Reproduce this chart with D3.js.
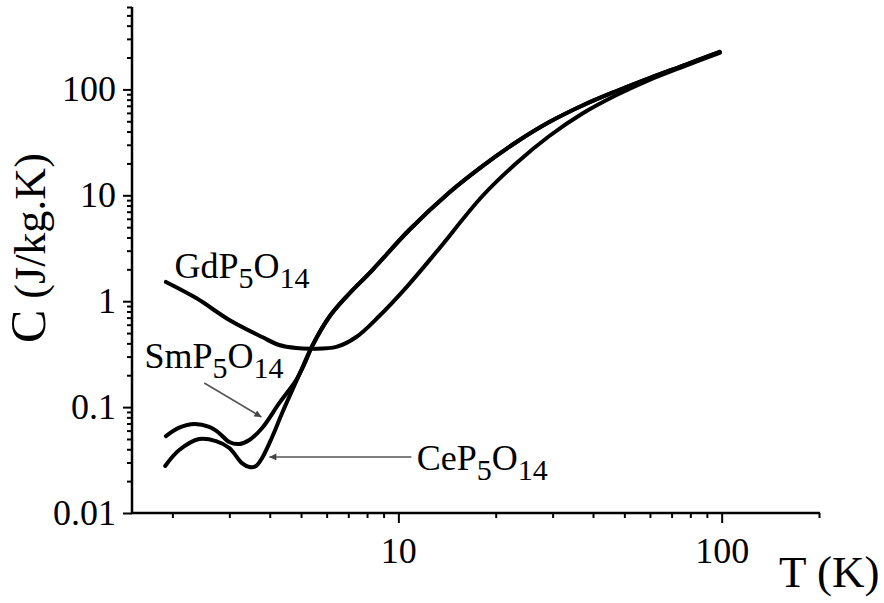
<!DOCTYPE html>
<html>
<head>
<meta charset="utf-8">
<script src="https://cdn.jsdelivr.net/npm/d3@7"></script>
<style>
  body { margin: 0; background: #fff; }
  svg { display: block; }
  text { font-family: "Liberation Serif", "Times New Roman", serif; fill: #000; }
</style>
</head>
<body>
<svg id="chart" width="884" height="603"></svg>
<script>
// Specific heat C (J/kg.K) of three rare-earth pentaphosphates versus temperature T (K)

// GdP5O14
const gdT = [1.91, 2.37, 3.0, 3.79, 4.28, 4.83, 5.42, 6.43, 7.41, 8.73, 10.6, 13.1, 18.2, 23.2, 29.3, 37.1, 47.3, 59.8, 76.8, 98.6];
const gdC = [1.52, 1.07, 0.665, 0.459, 0.386, 0.361, 0.356, 0.370, 0.459, 0.725, 1.36, 2.91, 9.85, 20.2, 36.3, 59.2, 88.5, 123, 166, 221];

// SmP5O14 and CeP5O14 coincide above about 5.4 K
const highT = [5.42, 6.11, 6.90, 8.31, 10.8, 14.4, 18.2, 23.2, 29.3, 37.1, 47.3, 59.8, 76.8, 98.6];
const highC = [0.38, 0.709, 1.10, 1.97, 4.70, 10.7, 18.9, 31.9, 49.2, 70.5, 96.6, 128, 170, 226];

// SmP5O14 below the merge
const smT = [1.91, 2.10, 2.34, 2.60, 2.79, 3.0, 3.22, 3.46, 3.79, 4.28, 4.83, 5.12];
const smC = [0.0533, 0.0640, 0.0692, 0.0649, 0.0569, 0.0468, 0.0448, 0.0489, 0.0635, 0.109, 0.180, 0.255];

// CeP5O14 below the merge
const ceT = [1.90, 2.10, 2.42, 2.73, 3.0, 3.29, 3.46, 3.63, 3.79, 4.07, 4.37, 4.70, 5.04];
const ceC = [0.0278, 0.0393, 0.050, 0.0478, 0.0411, 0.0294, 0.0272, 0.0278, 0.0331, 0.0522, 0.088, 0.145, 0.234];

// Axis ticks
const xMajor = [10, 100];
const xMinor = [2, 3, 4, 5, 6, 7, 8, 9, 20, 30, 40, 50, 60, 70, 80, 90, 200];
const yMajor = [0.01, 0.1, 1, 10, 100];
const yMajorLabels = ["0.01", "0.1", "1", "10", "100"];
const yMinor = [];
[0.01, 0.1, 1, 10, 100].forEach(d => { for (let k = 2; k <= 9; k++) if (d * k <= 600) yMinor.push(d * k); });

const svg = d3.select("#chart");

const x = d3.scaleLog().domain([1.5, 200]).range([132, 819]);
const y = d3.scaleLog().domain([0.01, 600]).range([513, 7]);

const zip = (ts, cs) => ts.map((t, i) => [t, cs[i]]);
const series = [
  zip(gdT, gdC),
  zip(smT.concat(highT), smC.concat(highC)),
  zip(ceT.concat(highT), ceC.concat(highC))
];

const line = d3.line()
  .x(d => x(d[0]))
  .y(d => y(d[1]))
  .curve(d3.curveCatmullRom.alpha(0.5));

svg.append("g").selectAll("path")
  .data(series)
  .join("path")
  .attr("d", line)
  .attr("fill", "none")
  .attr("stroke", "#000")
  .attr("stroke-width", 4)
  .attr("stroke-linejoin", "round")
  .attr("stroke-linecap", "round");

// X axis
const xAxisG = svg.append("g").attr("transform", `translate(0,${y(0.01)})`);
xAxisG.append("g").call(d3.axisBottom(x).tickValues(xMinor).tickSize(5).tickFormat("").tickSizeOuter(0));
xAxisG.append("g").call(d3.axisBottom(x).tickValues(xMajor).tickSize(10).tickPadding(14).tickFormat(d3.format("d")).tickSizeOuter(0));
xAxisG.selectAll(".domain").remove();
xAxisG.selectAll(".tick line").attr("stroke", "#000").attr("stroke-width", 2);
xAxisG.selectAll(".tick text").attr("font-size", 36).attr("font-family", "Liberation Serif");
xAxisG.append("line").attr("x1", x(1.5) - 1).attr("x2", x(200) + 1)
  .attr("stroke", "#000").attr("stroke-width", 2.5);

// Y axis
const yAxisG = svg.append("g").attr("transform", `translate(${x(1.5)},0)`);
yAxisG.append("g").call(d3.axisLeft(y).tickValues(yMinor).tickSize(5).tickFormat("").tickSizeOuter(0));
yAxisG.append("g").call(d3.axisLeft(y).tickValues(yMajor).tickSize(9).tickPadding(7)
  .tickFormat((d, i) => yMajorLabels[i]).tickSizeOuter(0));
yAxisG.selectAll(".domain").remove();
yAxisG.selectAll(".tick line").attr("stroke", "#000").attr("stroke-width", 2);
yAxisG.selectAll(".tick text").attr("font-size", 36).attr("font-family", "Liberation Serif");
yAxisG.append("line").attr("y1", y(600)).attr("y2", y(0.01) + 1)
  .attr("stroke", "#000").attr("stroke-width", 2.5);

// Axis titles
svg.append("text")
  .attr("x", 779).attr("y", 587)
  .attr("font-size", 45)
  .text("T (K)");

const yTitle = svg.append("text")
  .attr("transform", "translate(45,343) rotate(-90)");
yTitle.append("tspan").attr("font-size", 50).text("C");
yTitle.append("tspan").attr("font-size", 44).text(" (J/kg.K)");

// Compound labels with subscripts
function formula(tx, tc, parts) {
  const t = svg.append("text").attr("x", x(tx)).attr("y", y(tc));
  parts.forEach(([s, sub], i) => {
    t.append("tspan")
      .attr("font-size", sub ? 30 : 36)
      .attr("dy", i === 0 ? 0 : (sub ? 10 : -10))
      .text(s);
  });
}
formula(2.03, 1.66, [["GdP", false], ["5", true], ["O", false], ["14", true]]);
formula(1.64, 0.234, [["SmP", false], ["5", true], ["O", false], ["14", true]]);
formula(11.4, 0.0255, [["CeP", false], ["5", true], ["O", false], ["14", true]]);

// Pointer arrows
const defs = svg.append("defs");
defs.append("marker")
  .attr("id", "head")
  .attr("viewBox", "0 0 10 10")
  .attr("refX", 10).attr("refY", 5)
  .attr("markerWidth", 12).attr("markerHeight", 7)
  .attr("markerUnits", "userSpaceOnUse")
  .attr("orient", "auto")
  .append("path").attr("d", "M0,0 L10,5 L0,10 Z").attr("fill", "#444");

const arrows = [
  { from: [2.51, 0.169], to: [3.77, 0.0806] },
  { from: [10.97, 0.0338], to: [3.99, 0.0338] }
];
svg.append("g").selectAll("line")
  .data(arrows)
  .join("line")
  .attr("x1", d => x(d.from[0])).attr("y1", d => y(d.from[1]))
  .attr("x2", d => x(d.to[0])).attr("y2", d => y(d.to[1]))
  .attr("stroke", "#555")
  .attr("stroke-width", 1.6)
  .attr("marker-end", "url(#head)");
</script>
</body>
</html>
